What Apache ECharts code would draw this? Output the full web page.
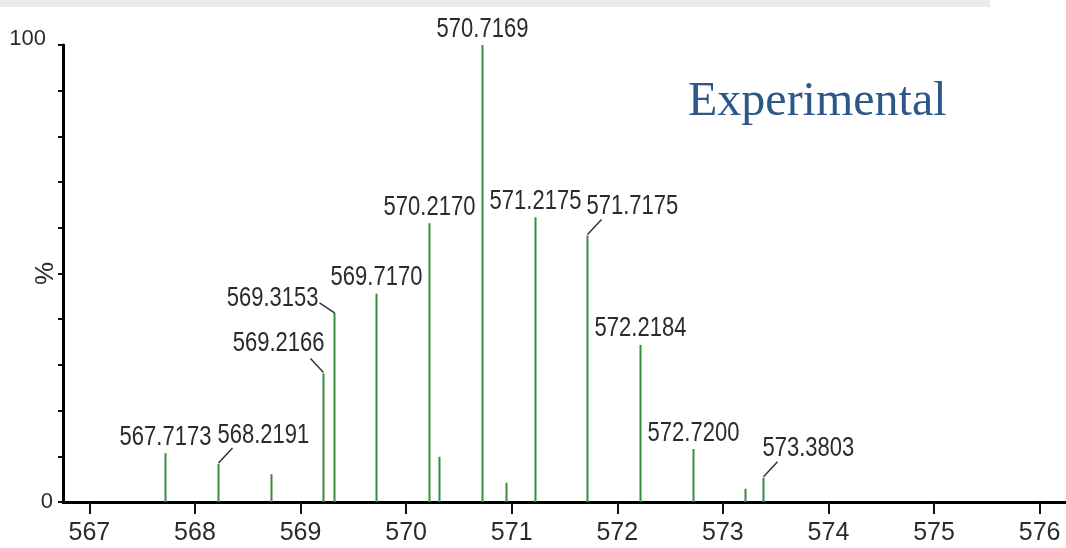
<!DOCTYPE html>
<html>
<head>
<meta charset="utf-8">
<script src="https://cdn.jsdelivr.net/npm/echarts@6/dist/echarts.min.js"></script>
<style>
html,body{margin:0;padding:0;background:#fff;}
#chart{width:1066px;height:548px;}
</style>
</head>
<body>
<div id="chart"></div>
<script>
// ---- data ----
var mz = [567.7173, 568.2191, 568.72, 569.2166, 569.3153, 569.7170, 570.2170, 570.31,
          570.7169, 570.95, 571.2175, 571.7175, 572.2184, 572.7200, 573.21, 573.3803];
var intensity = [10.7, 8.3, 6.1, 28.1, 41.4, 45.6, 61.0, 9.9,
                 100, 4.2, 62.3, 58.3, 34.4, 11.6, 2.9, 5.3];
var peakLabels = ['567.7173', '568.2191', '', '569.2166', '569.3153', '569.7170', '570.2170', '',
                  '570.7169', '', '571.2175', '571.7175', '572.2184', '572.7200', '', '573.3803'];
var xTicks = [567, 568, 569, 570, 571, 572, 573, 574, 575, 576];
var yLabelValues = [0, 100];
var annotation = 'Experimental';

// ---- label placement (style) ----
var placement = {
  '568.2191': 'right', '571.7175': 'right', '573.3803': 'right',
  '569.2166': 'left', '569.3153': 'leftLow'
};

var SANS = '"Liberation Sans", Arial, sans-serif';
var chart = echarts.init(document.getElementById('chart'));

function renderItem(params, api) {
  var x = api.value(0), y = api.value(1);
  var base = api.coord([x, 0]);
  var top = api.coord([x, y]);
  var px = Math.round(top[0]) + 0.5;
  var children = [{
    type: 'line',
    shape: {x1: px, y1: base[1], x2: px, y2: top[1]},
    style: {stroke: '#3a8b3a', lineWidth: 2}
  }];
  var lbl = peakLabels[params.dataIndex];
  if (lbl) {
    var mode = placement[lbl] || 'center';
    var tx, ty, align = 'center';
    if (mode === 'center') {
      tx = px; ty = top[1] - 16;
    } else if (mode === 'right') {
      children.push({type: 'line', shape: {x1: px, y1: top[1] - 1, x2: px + 14, y2: top[1] - 16},
        style: {stroke: '#333', lineWidth: 1.5}});
      tx = px - 1; ty = top[1] - 29; align = 'left';
    } else if (mode === 'left') {
      children.push({type: 'line', shape: {x1: px, y1: top[1] - 1, x2: px - 13, y2: top[1] - 15},
        style: {stroke: '#333', lineWidth: 1.5}});
      tx = px + 1; ty = top[1] - 30; align = 'right';
    } else {
      children.push({type: 'line', shape: {x1: px, y1: top[1], x2: px - 15, y2: top[1] - 10},
        style: {stroke: '#333', lineWidth: 1.5}});
      tx = px - 16; ty = top[1] - 14; align = 'right';
    }
    children.push({
      type: 'text',
      x: tx, y: ty, scaleY: 1.25,
      style: {text: lbl, fill: '#2b2b2b', font: '22px ' + SANS,
              align: align, verticalAlign: 'middle'}
    });
  }
  return {type: 'group', children: children};
}

var option = {
  animation: false,
  backgroundColor: '#ffffff',
  grid: {left: 63, right: 0, top: 45, bottom: 46, containLabel: false, outerBoundsMode: 'none'},
  xAxis: {
    type: 'value',
    min: 566.75, max: 576.25,
    splitLine: {show: false},
    axisLine: {show: true, lineStyle: {color: '#000', width: 3}},
    axisTick: {show: true, customValues: xTicks, length: 12, lineStyle: {color: '#111', width: 2}},
    axisLabel: {show: true, customValues: xTicks, margin: 19, fontSize: 25,
      fontFamily: SANS, color: '#2b2b2b'}
  },
  yAxis: {
    type: 'value',
    min: 0, max: 100, interval: 10,
    name: '%', nameLocation: 'middle', nameRotate: 90, nameGap: 4, nameMoveOverlap: false,
    nameTextStyle: {fontSize: 26, fontFamily: SANS, color: '#2b2b2b'},
    splitLine: {show: false},
    axisLine: {show: true, lineStyle: {color: '#000', width: 3}},
    axisTick: {show: true, length: 5, lineStyle: {color: '#111', width: 2}},
    axisLabel: {
      show: true, margin: 10, fontSize: 22, fontFamily: SANS, color: '#2b2b2b',
      formatter: function (v) {
        if (yLabelValues.indexOf(v) < 0) return '';
        return v === 100 ? '{hi|' + v + '}' : String(v);
      },
      rich: {hi: {fontSize: 22, fontFamily: SANS, color: '#2b2b2b', padding: [0, 7, 12, 0]}}
    }
  },
  graphic: [
    {type: 'rect', left: 0, top: 0, shape: {width: 990, height: 7}, style: {fill: '#ebebeb'}, z: 100},
    {type: 'text', left: 688, top: 78, style: {text: annotation, fill: '#2d5788',
      font: '48px "Liberation Serif", "Times New Roman", serif'}}
  ],
  series: [{
    type: 'custom',
    clip: false,
    renderItem: renderItem,
    data: mz.map(function (m, i) { return [m, intensity[i]]; })
  }]
};
chart.setOption(option);
</script>
</body>
</html>
